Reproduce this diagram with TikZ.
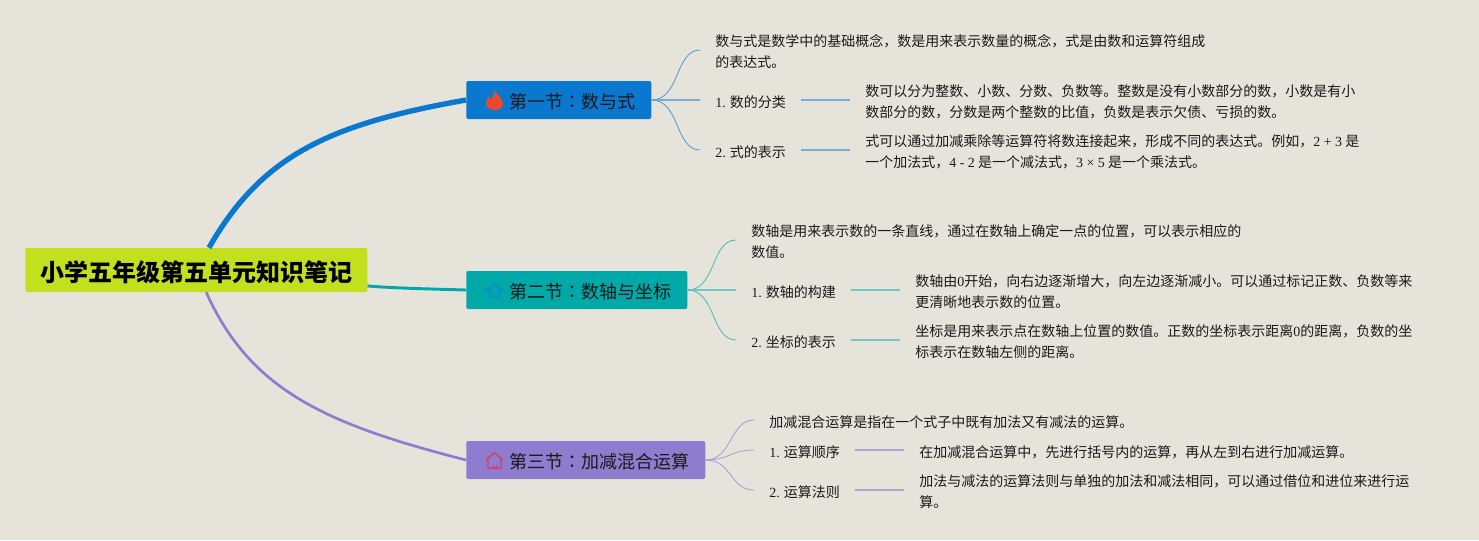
\documentclass[tikz,border=0pt]{standalone}
\usepackage{fontspec}
\setmainfont{Noto Sans CJK SC}
\newfontfamily\latfont{Liberation Serif}
\newfontfamily\tcfont{Noto Sans CJK TC}
\newcommand{\lat}[1]{{\latfont #1}}
\newcommand{\colonmark}{{\tcfont ：}}

\definecolor{paper}{HTML}{E6E3DB}
\definecolor{rootcol}{HTML}{C2E01E}
\definecolor{bluecol}{HTML}{0B78D0}
\definecolor{tealcol}{HTML}{00A8A8}
\definecolor{purpcol}{HTML}{8E7CCF}
\definecolor{inkcol}{HTML}{1A1A1A}
\definecolor{flamecol}{HTML}{EA4A2C}
\definecolor{starcol}{HTML}{0A8FC8}
\definecolor{housecol}{HTML}{D9376E}

\tikzset{
	root/.style={anchor=west, fill=rootcol, rounded corners=1.5pt, inner xsep=11.25pt, inner ysep=0pt, minimum height=33pt, font=\fontsize{18}{22}\selectfont\bfseries, text=black, execute at begin node={\rule{0pt}{18.5pt}}},
	sect/.style={anchor=west, rounded corners=1.5pt, inner xsep=12pt, inner ysep=0pt, minimum height=28.5pt, font=\fontsize{13.5}{18}\selectfont, text=inkcol, execute at begin node={\rule{0pt}{13.4pt}\hspace*{20.25pt}}},
	note/.style={anchor=west, align=left, inner xsep=11.25pt, inner ysep=0pt, font=\fontsize{10.5}{15.5}\selectfont, text=inkcol, execute at begin node={\rule{0pt}{12.2pt}}},
	para/.style={note, execute at begin node={\rule{0pt}{27.3pt}}},
	twig/.style={line width=.6pt},
	stem/.style={line width=1.1pt},
}

\begin{document}
\begin{tikzpicture}[x=.75pt, y=-.75pt]
	\path[use as bounding box, fill=paper] (0,0) rectangle (1479,540);

	\node[root] (root) at (25,270){小学五年级第五单元知识笔记};

	\node[sect, fill=bluecol] (sec1) at (466,100){第一节\colonmark 数与式};
	\node[sect, fill=tealcol] (sec2) at (466,290){第二节\colonmark 数轴与坐标};
	\node[sect, fill=purpcol] (sec3) at (466,460){第三节\colonmark 加减混合运算};

	\draw[line width=4pt, bluecol] (root) .. controls (262,155) and (330,124) .. (sec1.west);
	\draw[line width=2.2pt, tealcol] (root) .. controls (390,288) and (430,289) .. (sec2.west);
	\draw[line width=2pt, purpcol] (root) .. controls (250,390) and (325,424) .. (sec3.west);

	% first section
	\node[para] (a0) at (700,50){数与式是数学中的基础概念，数是用来表示数量的概念，式是由数和运算符组成\\的表达式。};
	\node[note] (a1) at (700,100){\lat{1.} 数的分类};
	\node[note] (a2) at (700,150){\lat{2.} 式的表示};
	\node[para] (a1t) at (850,100){数可以分为整数、小数、分数、负数等。整数是没有小数部分的数，小数是有小\\数部分的数，分数是两个整数的比值，负数是表示欠债、亏损的数。};
	\node[para] (a2t) at (850,150){式可以通过加减乘除等运算符将数连接起来，形成不同的表达式。例如，\lat{2 + 3} 是\\一个加法式，\lat{4 - 2} 是一个减法式，\lat{3 × 5} 是一个乘法式。};

	\draw[twig, bluecol!70!paper] (sec1.east) .. controls (680,100) and (675,50) .. (a0.west);
	\draw[stem, bluecol!50!paper] (sec1.east) -- (a1.west);
	\draw[twig, bluecol!70!paper] (sec1.east) .. controls (680,100) and (675,150) .. (a2.west);
	\draw[stem, bluecol!50!paper] (a1.east) -- (a1t.west);
	\draw[stem, bluecol!50!paper] (a2.east) -- (a2t.west);

	% second section
	\node[para] (b0) at (736,240){数轴是用来表示数的一条直线，通过在数轴上确定一点的位置，可以表示相应的\\数值。};
	\node[note] (b1) at (736,290){\lat{1.} 数轴的构建};
	\node[note] (b2) at (736,340){\lat{2.} 坐标的表示};
	\node[para] (b1t) at (900,290){数轴由\lat{0}开始，向右边逐渐增大，向左边逐渐减小。可以通过标记正数、负数等来\\更清晰地表示数的位置。};
	\node[para] (b2t) at (900,340){坐标是用来表示点在数轴上位置的数值。正数的坐标表示距离\lat{0}的距离，负数的坐\\标表示在数轴左侧的距离。};

	\draw[twig, tealcol!70!paper] (sec2.east) .. controls (716,290) and (711,240) .. (b0.west);
	\draw[stem, tealcol!50!paper] (sec2.east) -- (b1.west);
	\draw[twig, tealcol!70!paper] (sec2.east) .. controls (716,290) and (711,340) .. (b2.west);
	\draw[stem, tealcol!50!paper] (b1.east) -- (b1t.west);
	\draw[stem, tealcol!50!paper] (b2.east) -- (b2t.west);

	% third section
	\node[note] (c0) at (754,420){加减混合运算是指在一个式子中既有加法又有减法的运算。};
	\node[note] (c1) at (754,450){\lat{1.} 运算顺序};
	\node[note] (c2) at (754,490){\lat{2.} 运算法则};
	\node[note] (c1t) at (904,450){在加减混合运算中，先进行括号内的运算，再从左到右进行加减运算。};
	\node[para] (c2t) at (904,490){加法与减法的运算法则与单独的加法和减法相同，可以通过借位和进位来进行运\\算。};

	\draw[twig, purpcol!70!paper] (sec3.east) .. controls (732,460) and (730,420) .. (c0.west);
	\draw[twig, purpcol!70!paper] (sec3.east) .. controls (730,460) and (730,450) .. (c1.west);
	\draw[twig, purpcol!70!paper] (sec3.east) .. controls (732,460) and (730,490) .. (c2.west);
	\draw[stem, purpcol!60!paper] (c1.east) -- (c1t.west);
	\draw[stem, purpcol!60!paper] (c2.east) -- (c2t.west);

	% icons
	\fill[flamecol] (495,90) .. controls (496,95) and (503,98) .. (503,104) .. controls (503,108) and (499,110) .. (495,110) .. controls (490,110) and (486,108) .. (486,103) .. controls (486,100) and (488,98) .. (489,96) .. controls (490,98) and (490,99) .. (491,100) .. controls (493,97) and (494,94) .. (495,90) -- cycle;
	\draw[line width=1.2pt, starcol, line join=round] (494.5,283) -- (497,288) -- (502.5,288.7) -- (498.5,292.5) -- (499.5,298) -- (494.5,295.3) -- (489.5,298) -- (490.5,292.5) -- (486.5,288.7) -- (492,288) -- cycle;
	\draw[line width=1.1pt, housecol, line join=round, rounded corners=1pt] (486.5,460) -- (494.5,452.5) -- (502.5,460) (488,459) -- (488,468.5) -- (501,468.5) -- (501,459);
	\fill[housecol] (492,468) -- (492,464.5) arc (180:0:2.5) -- (497,468) -- cycle;
\end{tikzpicture}
\end{document}
